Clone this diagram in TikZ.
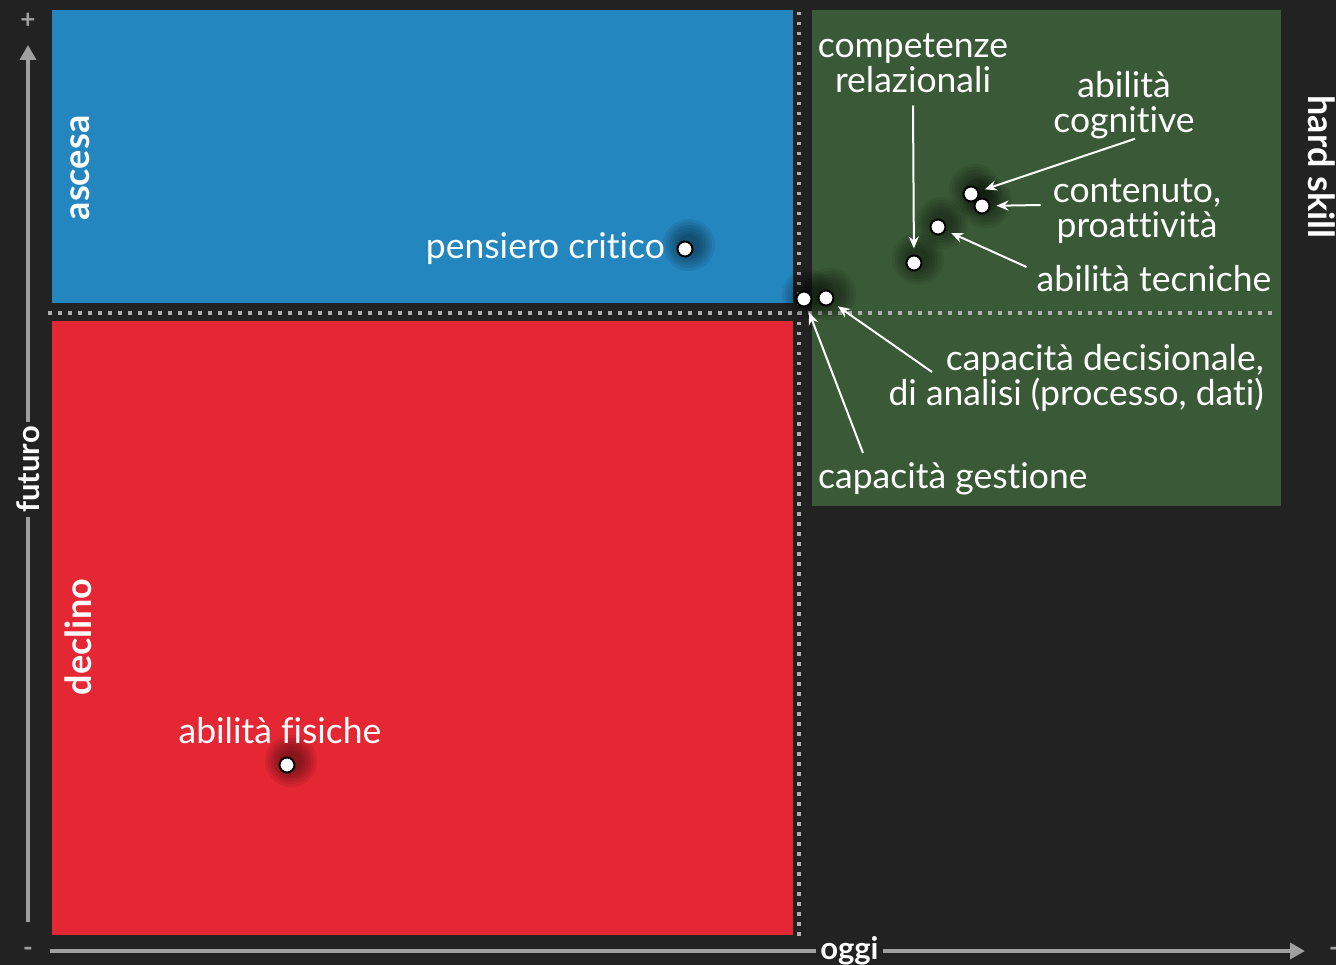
\documentclass[tikz,border=0pt]{standalone}
\usepackage{fontspec}
\setmainfont{Lato}[Ligatures={NoCommon}]
\usetikzlibrary{arrows.meta}

\definecolor{bgdark}{RGB}{34,34,34}
\definecolor{skyblue}{RGB}{36,134,191}
\definecolor{firered}{RGB}{229,38,51}
\definecolor{leafgreen}{RGB}{58,89,54}
\definecolor{axisgray}{RGB}{160,160,160}
\definecolor{dotgray}{RGB}{175,175,175}

\tikzset{
  skill/.style={circle, draw=black, fill=white, line width=2pt, minimum size=15pt, inner sep=0pt},
  lbl/.style={text=white, inner sep=0pt, font=\fontsize{35.5}{34.5}\selectfont},
  quad/.style={text=white, inner sep=0pt, font=\fontsize{36}{36}\selectfont\bfseries},
  axis/.style={draw=axisgray, line width=3.5pt, -{Triangle[length=15pt,width=16pt]}},
  axlbl/.style={text=white, fill=bgdark, font=\fontsize{31}{31}\selectfont\bfseries, inner sep=4pt},
  sign/.style={text=axisgray, inner sep=0pt, font=\fontsize{26}{26}\selectfont\bfseries},
  griddots/.style={draw=dotgray, line width=3.5pt, dash pattern=on 3.5pt off 6.5pt},
  pointer/.style={draw=white, line width=2pt, shorten >=6pt, -{Stealth[length=12pt,width=10pt]}}
}

\begin{document}
\begin{tikzpicture}[x=1pt,y=-1pt]
    \useasboundingbox (0,0) rectangle (1336,965);
    \fill[bgdark] (0,0) rectangle (1336,965);

    % quadrants
    \fill[skyblue] (52,10) rectangle (793,303);
    \fill[firered] (52,321) rectangle (793,935);
    \fill[leafgreen] (812,10) rectangle (1281,506);

    \path[griddots] (799,12) -- (799,937);
    \path[griddots] (48,313) -- (1276,313);

    % axes
    \coordinate (ybot) at (28,922);
    \coordinate (ytop) at (28,45);
    \coordinate (xleft) at (50,951);
    \coordinate (xright) at (1305,951);
    \path[axis] (ybot) -- (ytop) node[axlbl, rotate=90, pos=0.516] (futuro) {futuro};
    \path[axis] (xleft) -- (xright) node[axlbl, pos=0.637] (oggi) {oggi};
    \node[sign] (plus) at (28,21) {+};
    \node[sign] (minus) at (28,952) {-};
    \node[sign] (minusx) at (1334,952) {-};

    \node[quad, rotate=90] (ascesa) at (80,168) {ascesa};
    \node[quad, rotate=90] (declino) at (78,637) {declino};
    \node[quad, rotate=-90] (hard) at (1322,167) {hard skill};

    % skill points
    \foreach \n/ \x/ \y in {crit/685/249, fis/287/765, gest/804/299, decis/826/298,
                            cogn/971/194, cont/982/206, tecn/938/227, rel/914/263}
        \coordinate (p-\n) at (\x,\y);

    \foreach \n in {crit,fis,gest,decis,cogn,cont,tecn,rel}
        \foreach \r in {26,23,20,17,14,11}
            \fill[black, opacity=0.08] ([shift={(4,-4)}]p-\n) circle (\r pt);

    \foreach \n in {crit,fis,gest,decis,cogn,cont,tecn,rel}
        \node[skill] (d-\n) at (p-\n) {};

    % labels
    \node[lbl, anchor=east] (crit) at (665,249) {pensiero critico};
    \node[lbl] (fis) at (280,731) {abilità fisiche};
    \node[lbl, align=center] (compet) at (913,63) {competenze\\relazionali};
    \node[lbl, align=center] (cogn) at (1124,105) {abilità\\cognitive};
    \node[lbl, align=center] (cont) at (1137,211) {contenuto,\\proattività};
    \node[lbl] (tecn) at (1154,279) {abilità tecniche};
    \node[lbl, align=right, anchor=east] (decis) at (1264,378) {capacità decisionale,\\di analisi (processo, dati)};
    \node[lbl, anchor=west] (gest) at (818,479) {capacità gestione};

    \draw[pointer] ([shift={(0,13)}]compet.south) -- (d-rel);
    \draw[pointer] ([shift={(11,0)}]cogn.south) -- (d-cogn);
    \draw[pointer] ([shift={(-12,-6)}]cont.west) -- (d-cont);
    \draw[pointer] ([shift={(-10,-12)}]tecn.west) -- (d-tecn);
    \draw[pointer] ([shift={(-332,-6)}]decis.east) -- (d-decis);
    \draw[pointer] ([shift={(45,-26)}]gest.west) -- (d-gest);

\end{tikzpicture}
\end{document}
